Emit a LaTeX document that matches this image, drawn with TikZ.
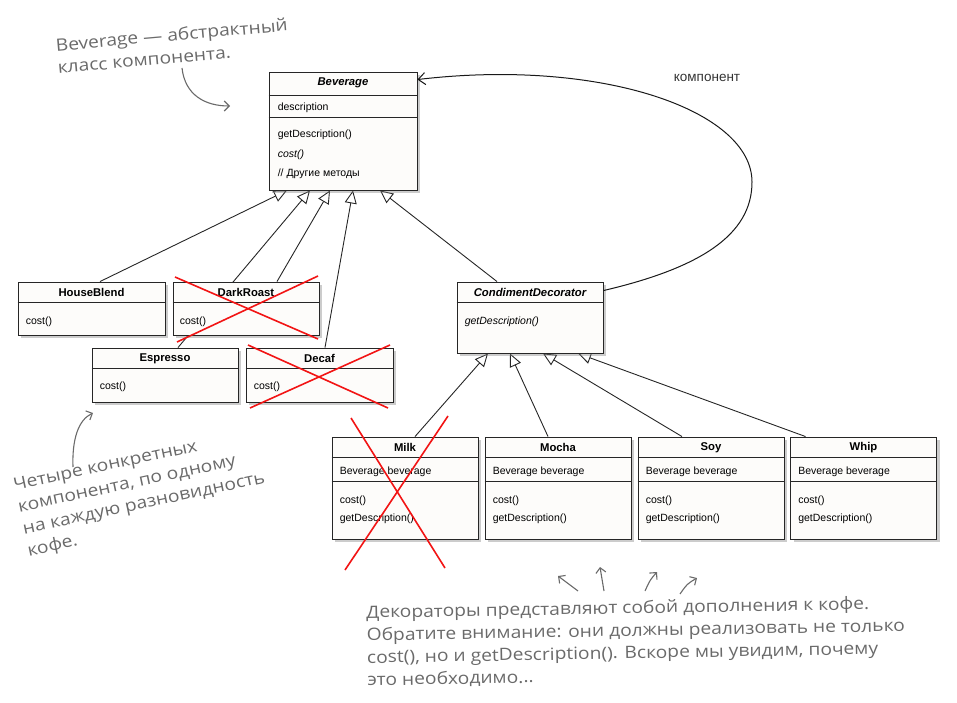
\documentclass[tikz,border=0pt]{standalone}
\usepackage{fontspec}
\setmainfont{Liberation Sans}
\newfontfamily\handfont[FakeStretch=1.13]{Open Sans}
\usepackage{tikz}
\usetikzlibrary{arrows.meta,shadows,backgrounds,positioning}
\definecolor{boxfill}{HTML}{FDFCFA}
\definecolor{handgray}{HTML}{6A6A6A}
\definecolor{crossred}{HTML}{F21414}

\begin{document}
\begin{tikzpicture}[x=1pt,y=-1pt,
    umlbox/.style={draw=black!85, line width=0.9pt, fill=boxfill, inner sep=0pt,
      drop shadow={opacity=0.4, shadow xshift=3pt, shadow yshift=-3pt}},
    ctitle/.style={font=\fontsize{11.3}{13}\selectfont\bfseries, inner sep=0pt},
    member/.style={font=\fontsize{10.5}{12}\selectfont, anchor=west, inner sep=0pt,
      text height=1.6ex, text depth=0.4ex},
    sepline/.style={draw=black!85, line width=0.9pt},
    inherit/.style={draw=black!85, line width=0.9pt,
      -{Triangle[open, length=13pt, width=12pt]}},
    assoc/.style={draw=black!90, line width=1pt,
      -{Straight Barb[length=7pt, width=12pt]}},
    strike/.style={draw=crossred, line width=1.6pt},
    note/.style={text=handgray, font=\handfont\fontsize{17}{22.5}\selectfont,
      align=left, inner sep=0pt, anchor=north west},
    notearrow/.style={draw=handgray, line width=1.1pt,
      -{Straight Barb[length=5pt, width=10pt]}}]

  \useasboundingbox (0,0) rectangle (957,703);

  % Beverage
  \node[umlbox, minimum width=148pt, minimum height=118pt] (bev) at (343,131) {};
  \draw[sepline] ([yshift=-24pt]bev.north west) -- ([yshift=-24pt]bev.north east);
  \draw[sepline] ([yshift=-46pt]bev.north west) -- ([yshift=-46pt]bev.north east);
  \node[ctitle] (bev-t) at ([yshift=-11pt]bev.north) {\itshape Beverage};
  \node[member] (bev-a) at ([xshift=9pt,yshift=-36pt]bev.north west) {description};
  \node[member] (bev-m1) at ([xshift=9pt,yshift=-63pt]bev.north west) {getDescription()};
  \node[member] (bev-m2) at ([xshift=9pt,yshift=-83pt]bev.north west) {\itshape cost()};
  \node[member] (bev-m3) at ([xshift=9pt,yshift=-102pt]bev.north west) {// Другие методы};

  % concrete components
  \node[umlbox, minimum width=147pt, minimum height=53pt] (hb) at (91.5,308.5) {};
  \draw[sepline] ([yshift=-21pt]hb.north west) -- ([yshift=-21pt]hb.north east);
  \node[ctitle] (hb-t) at ([yshift=-11pt]hb.north) {HouseBlend};
  \node[member] (hb-m) at ([xshift=8pt,yshift=-40pt]hb.north west) {cost()};

  \node[umlbox, minimum width=146pt, minimum height=53pt] (dr) at (246,308.5) {};
  \draw[sepline] ([yshift=-21pt]dr.north west) -- ([yshift=-21pt]dr.north east);
  \node[ctitle] (dr-t) at ([yshift=-11pt]dr.north) {DarkRoast};
  \node[member] (dr-m) at ([xshift=7pt,yshift=-40pt]dr.north west) {cost()};

  \node[umlbox, minimum width=146pt, minimum height=54pt] (esp) at (165,375) {};
  \draw[sepline] ([yshift=-21pt]esp.north west) -- ([yshift=-21pt]esp.north east);
  \node[ctitle] (esp-t) at ([yshift=-11pt]esp.north) {Espresso};
  \node[member] (esp-m) at ([xshift=8pt,yshift=-39pt]esp.north west) {cost()};

  \node[umlbox, minimum width=147pt, minimum height=54pt] (dec) at (319.5,375) {};
  \draw[sepline] ([yshift=-21pt]dec.north west) -- ([yshift=-21pt]dec.north east);
  \node[ctitle] (dec-t) at ([yshift=-11pt]dec.north) {Decaf};
  \node[member] (dec-m) at ([xshift=8pt,yshift=-39pt]dec.north west) {cost()};

  % decorator
  \node[umlbox, minimum width=146pt, minimum height=71pt] (cd) at (530,317.5) {};
  \draw[sepline] ([yshift=-21pt]cd.north west) -- ([yshift=-21pt]cd.north east);
  \node[ctitle] (cd-t) at ([yshift=-11pt]cd.north) {\itshape CondimentDecorator};
  \node[member] (cd-m) at ([xshift=8pt,yshift=-40pt]cd.north west) {\itshape getDescription()};

  % concrete decorators
  \foreach \nm/\cx/\txt in {milk/405/Milk, mocha/558/Mocha, soy/711/Soy, whip/863.5/Whip} {
    \node[umlbox, minimum width=146pt, minimum height=102pt] (\nm) at (\cx,488) {};
    \draw[sepline] ([yshift=-21pt]\nm.north west) -- ([yshift=-21pt]\nm.north east);
    \draw[sepline] ([yshift=-45pt]\nm.north west) -- ([yshift=-45pt]\nm.north east);
    \node[ctitle] (\nm-t) at ([yshift=-11pt]\nm.north) {\txt};
    \node[member] (\nm-a) at ([xshift=8pt,yshift=-35pt]\nm.north west) {Beverage beverage};
    \node[member] (\nm-m1) at ([xshift=8pt,yshift=-64pt]\nm.north west) {cost()};
    \node[member] (\nm-m2) at ([xshift=8pt,yshift=-82pt]\nm.north west) {getDescription()};
  }

  % generalisations
  \begin{scope}[on background layer]
    \path[inherit]
      ([xshift=8.5pt]hb.north) edge ([xshift=-56pt]bev.south)
      ([xshift=13pt]esp.north) edge ([xshift=-33pt]bev.south)
      ([xshift=31pt]dr.north) edge ([xshift=-13pt]bev.south)
      ([xshift=5.5pt]dec.north) edge ([xshift=10pt]bev.south)
      ([xshift=-33pt]cd.north) edge ([xshift=37pt]bev.south)
      ([xshift=10pt]milk.north) edge ([xshift=-42pt]cd.south)
      ([xshift=-10pt]mocha.north) edge ([xshift=-20pt]cd.south)
      ([xshift=-29pt]soy.north) edge ([xshift=13pt]cd.south)
      ([xshift=-58pt]whip.north) edge ([xshift=48pt]cd.south);
  \end{scope}

  % component link
  \draw[assoc] ([yshift=-9pt]cd.north east)
    .. controls (700,268) and (752,235) .. (752,182)
    .. controls (752,110) and (600,58) .. ([yshift=-8pt]bev.north east);
  \node[font=\fontsize{13.5}{15}\selectfont, text=black!80] (comp-lbl) at (707,78) {компонент};

  % crossed-out classes
  \draw[strike] (175,277) -- (318,339);
  \draw[strike] (177,342) -- (318,276);
  \draw[strike] (248,345) -- (388,408);
  \draw[strike] (250,408) -- (390,345);
  \draw[strike] (351,418) -- (445,568);
  \draw[strike] (448,416) -- (345,570);

  % notes
  \node[note, rotate=5] (note-bev) at (55,38) {Beverage — абстрактный\\класс компонента.};
  \draw[notearrow] (182,68) .. controls (185,95) and (205,106) .. (230,106);

  \node[note, rotate=12] (note-conc) at (12,478)
    {Четыре конкретных\\компонента, по одному\\на каждую разновидность\\кофе.};
  \draw[notearrow] (73,467) .. controls (72,440) and (78,420) .. (93,413);

  \node[note, rotate=1] (note-dec) at (366,605)
    {Декораторы представляют собой дополнения к кофе.\\
     Обратите внимание: они должны реализовать не только\\
     cost(), но и getDescription(). Вскоре мы увидим, почему\\
     это необходимо...};
  \draw[notearrow] (578,591) -- (558,576);
  \draw[notearrow] (604,591) .. controls (602,580) .. (600,567);
  \draw[notearrow] (645,591) .. controls (650,580) .. (657,572);
  \draw[notearrow] (680,594) .. controls (687,584) .. (697,578);
\end{tikzpicture}
\end{document}
